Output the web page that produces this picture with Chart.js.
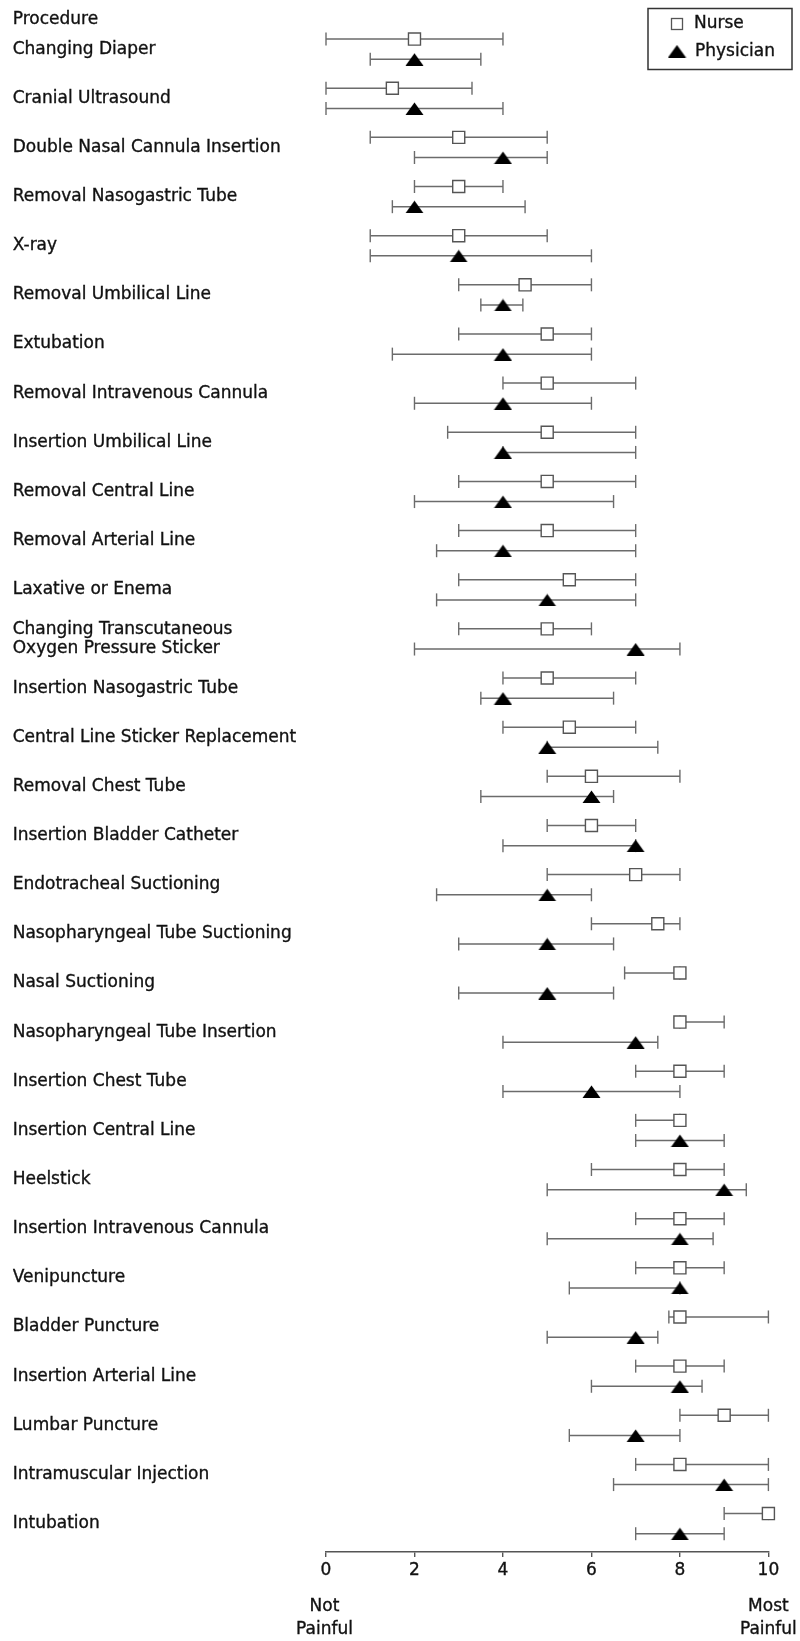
<!DOCTYPE html>
<html>
<head>
<meta charset="utf-8">
<title>Procedural pain ratings</title>
<script src="https://cdn.jsdelivr.net/npm/chart.js@4.4.1/dist/chart.umd.min.js"></script>
<style>
  html, body { margin: 0; padding: 0; background: #fff; }
  #wrap { position: relative; width: 800px; height: 1641px; }
</style>
</head>
<body>
<div id="wrap"><canvas id="painChart"></canvas></div>
<script>
// Procedures, listed top to bottom
const procedures = [
  'Changing Diaper', 'Cranial Ultrasound', 'Double Nasal Cannula Insertion',
  'Removal Nasogastric Tube', 'X-ray', 'Removal Umbilical Line', 'Extubation',
  'Removal Intravenous Cannula', 'Insertion Umbilical Line', 'Removal Central Line',
  'Removal Arterial Line', 'Laxative or Enema',
  ['Changing Transcutaneous', 'Oxygen Pressure Sticker'],
  'Insertion Nasogastric Tube', 'Central Line Sticker Replacement', 'Removal Chest Tube',
  'Insertion Bladder Catheter', 'Endotracheal Suctioning', 'Nasopharyngeal Tube Suctioning',
  'Nasal Suctioning', 'Nasopharyngeal Tube Insertion', 'Insertion Chest Tube',
  'Insertion Central Line', 'Heelstick', 'Insertion Intravenous Cannula', 'Venipuncture',
  'Bladder Puncture', 'Insertion Arterial Line', 'Lumbar Puncture',
  'Intramuscular Injection', 'Intubation'
];

// Nurse ratings: median with lower / upper range
const nurseMedian = [2, 1.5, 3, 3, 3, 4.5, 5, 5, 5, 5, 5, 5.5, 5, 5, 5.5, 6, 6, 7, 7.5, 8, 8, 8, 8, 8, 8, 8, 8, 8, 9, 8, 10];
const nurseLow    = [0, 0, 1, 2, 1, 3, 3, 4, 2.75, 3, 3, 3, 3, 4, 4, 5, 5, 5, 6, 6.75, 8, 7, 7, 6, 7, 7, 7.75, 7, 8, 7, 9];
const nurseHigh   = [4, 3.3, 5, 4, 5, 6, 6, 7, 7, 7, 7, 7, 6, 7, 7, 8, 7, 8, 8, 8, 9, 9, 8, 9, 9, 9, 10, 9, 10, 10, 10];

// Physician ratings: median with lower / upper range
const physicianMedian = [2, 2, 4, 2, 3, 4, 4, 4, 4, 4, 4, 5, 7, 4, 5, 6, 7, 5, 5, 5, 7, 6, 8, 9, 8, 8, 7, 8, 7, 9, 8];
const physicianLow    = [1, 0, 2, 1.5, 1, 3.5, 1.5, 2, 4, 2, 2.5, 2.5, 2, 3.5, 5, 3.5, 4, 2.5, 3, 3, 4, 4, 7, 5, 5, 5.5, 5, 6, 5.5, 6.5, 7];
const physicianHigh   = [3.5, 4, 5, 4.5, 6, 4.45, 6, 6, 7, 6.5, 7, 7, 8, 6.5, 7.5, 6.5, 7, 6, 6.5, 6.5, 7.5, 8, 9, 9.5, 8.75, 8, 7.5, 8.5, 8, 10, 9];

// Axis ticks and text
const xTicks = [0, 2, 4, 6, 8, 10];
const headerLabel = 'Procedure';
const lowEndLabel = ['Not', 'Painful'];
const highEndLabel = ['Most', 'Painful'];
const seriesNames = ['Nurse', 'Physician'];

const FONT = "'DejaVu Sans', 'Noto Sans', sans-serif";
const INK = '#111';
const ROW_PX = 49.15;         // height of one procedure row
const ROW_SHIFT = 0.205;      // vertical split between the two groups within a row
const WHISKER = '#6b6b6b';

// Filled triangle marker for physicians
function makeTriangle(w, h) {
  const c = document.createElement('canvas');
  c.width = w; c.height = h;
  const g = c.getContext('2d');
  g.fillStyle = '#000';
  g.beginPath();
  g.moveTo(0.5, h);
  g.lineTo(w / 2, 0.5);
  g.lineTo(w - 0.5, h);
  g.closePath();
  g.fill();
  return c;
}
const triangle = makeTriangle(19, 13);

function points(values, shift) {
  return values.map((v, i) => ({ x: v, y: i + shift }));
}
function ranges(low, high, shift) {
  const out = [];
  low.forEach((lo, i) => {
    out.push({ x: lo, y: i + shift }, { x: high[i], y: i + shift }, { x: null, y: null });
  });
  return out;
}

const whiskerStyle = {
  type: 'scatter',
  showLine: true,
  spanGaps: false,
  borderColor: WHISKER,
  borderWidth: 1.5,
  pointStyle: 'line',
  pointRadius: 6.5,
  pointHoverRadius: 6.5,
  pointRotation: 90,
  pointBorderColor: WHISKER,
  pointBorderWidth: 1.4,
  clip: false,
  order: 1
};

// Keep every procedure row at a fixed pitch from the top of the canvas
const rowPlacement = {
  id: 'rowPlacement',
  afterLayout(chart) {
    const y = chart.scales.y;
    y.min = y.top / ROW_PX - 1;
    y.max = y.bottom / ROW_PX - 1;
    y.configure();
  }
};

function inkText(ctx, text, x, y) {
  ctx.strokeText(text, x, y);
  ctx.fillText(text, x, y);
}

// Texts around the plot and the framed key
const decorations = {
  id: 'decorations',
  afterDraw(chart) {
    const { ctx } = chart;
    const x = chart.scales.x;
    ctx.save();
    ctx.font = '17px ' + FONT;
    ctx.fillStyle = INK;
    ctx.strokeStyle = INK;
    ctx.lineWidth = 0.35;
    ctx.textBaseline = 'alphabetic';
    ctx.textAlign = 'left';
    inkText(ctx, headerLabel, 12.7, 24);

    ctx.textAlign = 'center';
    const p0 = x.getPixelForValue(x.min) - 1.5;
    const p1 = x.getPixelForValue(x.max);
    lowEndLabel.forEach((t, k) => inkText(ctx, t, p0, 1610.5 + k * 23));
    highEndLabel.forEach((t, k) => inkText(ctx, t, p1, 1610.5 + k * 23));

    // key
    const bx = 648, by = 8.5, bw = 144, bh = 61;
    ctx.strokeStyle = '#333';
    ctx.lineWidth = 1.5;
    ctx.strokeRect(bx, by, bw, bh);
    const nurseDs = chart.data.datasets[0];
    ctx.fillStyle = nurseDs.pointBackgroundColor;
    ctx.strokeStyle = nurseDs.pointBorderColor;
    ctx.lineWidth = 1.3;
    ctx.fillRect(671.5, 18.5, 11, 11);
    ctx.strokeRect(671.5, 18.5, 11, 11);
    ctx.drawImage(triangle, 667.5, 44.5);
    ctx.fillStyle = INK;
    ctx.strokeStyle = INK;
    ctx.lineWidth = 0.35;
    ctx.textAlign = 'left';
    ctx.textBaseline = 'middle';
    inkText(ctx, chart.data.datasets[0].label, 694, 24);
    inkText(ctx, chart.data.datasets[1].label, 695, 51.5);
    ctx.restore();
  }
};

new Chart(document.getElementById('painChart'), {
  type: 'scatter',
  data: {
    datasets: [
      {
        label: seriesNames[0],
        data: points(nurseMedian, -ROW_SHIFT),
        pointStyle: 'rect',
        pointRadius: 8.5,
        pointHoverRadius: 8.5,
        pointBackgroundColor: '#ffffff',
        pointBorderColor: '#555555',
        pointBorderWidth: 1.4,
        clip: false,
        order: 0
      },
      {
        label: seriesNames[1],
        data: points(physicianMedian, ROW_SHIFT),
        pointStyle: triangle,
        pointRadius: 9,
        pointHoverRadius: 9,
        clip: false,
        order: 0
      },
      Object.assign({ label: seriesNames[0] + ' range', data: ranges(nurseLow, nurseHigh, -ROW_SHIFT) }, whiskerStyle),
      Object.assign({ label: seriesNames[1] + ' range', data: ranges(physicianLow, physicianHigh, ROW_SHIFT) }, whiskerStyle)
    ]
  },
  options: {
    responsive: true,
    maintainAspectRatio: false,
    animation: false,
    events: [],
    layout: { padding: { left: 12.7, right: 31.6, top: 0, bottom: 0 } },
    plugins: {
      legend: { display: false },
      tooltip: { enabled: false },
      title: { display: false }
    },
    scales: {
      x: {
        type: 'linear',
        min: 0,
        max: 10,
        afterBuildTicks(scale) { scale.ticks = xTicks.map(v => ({ value: v })); },
        afterFit(scale) { scale.height = 89; },
        border: { display: true, color: '#555', width: 1.6 },
        grid: { drawOnChartArea: false, drawTicks: true, tickLength: 5, color: '#555', lineWidth: 1.4 },
        ticks: {
          color: INK, padding: 3, textStrokeColor: INK, textStrokeWidth: 0.35,
          font: { family: FONT, size: 17 }
        }
      },
      y: {
        type: 'linear',
        reverse: true,
        min: -1,
        max: 30.62,
        afterBuildTicks(scale) { scale.ticks = procedures.map((p, i) => ({ value: i })); },
        afterFit(scale) {
          scale.width = 313.3;
          scale.paddingTop = 0;
          scale.paddingBottom = 0;
        },
        border: { display: false },
        grid: { display: false, drawTicks: false },
        ticks: {
          autoSkip: false,
          crossAlign: 'far',
          padding: 0,
          color: INK,
          textStrokeColor: INK,
          textStrokeWidth: 0.35,
          font: { family: FONT, size: 17, lineHeight: 1.14 },
          callback: (v) => procedures[Math.round(v)]
        }
      }
    }
  },
  plugins: [rowPlacement, decorations]
});
</script>
</body>
</html>
